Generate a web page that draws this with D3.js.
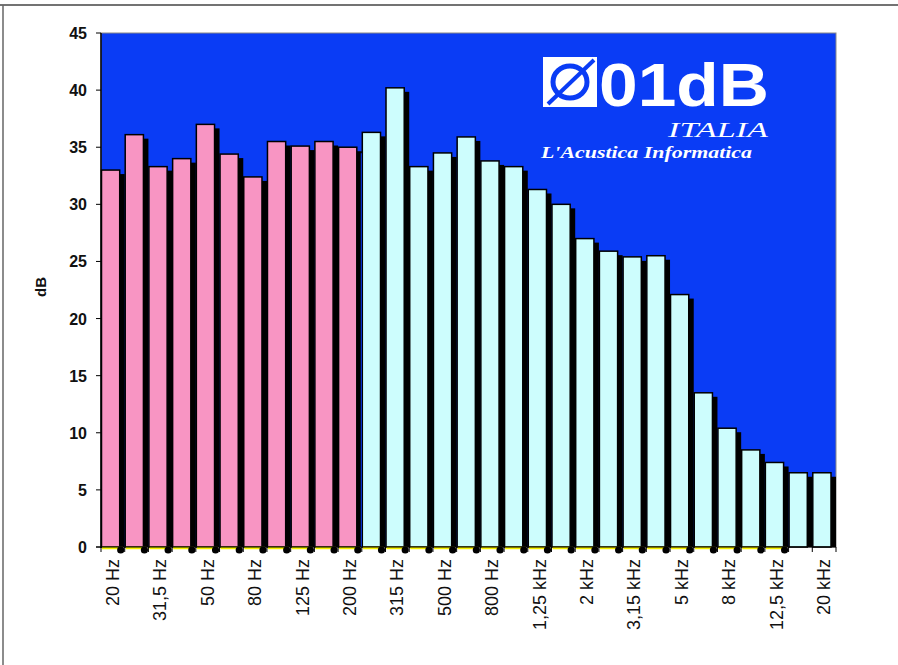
<!DOCTYPE html>
<html><head><meta charset="utf-8">
<script src="https://cdn.jsdelivr.net/npm/d3@7"></script>
<style>body{margin:0;background:#fff}svg{display:block}</style>
</head><body><svg id="c" width="898" height="665"></svg>
<script>
const bands = ["20 Hz","25 Hz","31.5 Hz","40 Hz","50 Hz","63 Hz","80 Hz","100 Hz","125 Hz","160 Hz","200 Hz","250 Hz","315 Hz","400 Hz","500 Hz","630 Hz","800 Hz","1 kHz","1.25 kHz","1.6 kHz","2 kHz","2.5 kHz","3.15 kHz","4 kHz","5 kHz","6.3 kHz","8 kHz","10 kHz","12.5 kHz","16 kHz","20 kHz"];
const labels = ["20 Hz","31.5 Hz","50 Hz","80 Hz","125 Hz","200 Hz","315 Hz","500 Hz","800 Hz","1.25 kHz","2 kHz","3.15 kHz","5 kHz","8 kHz","12.5 kHz","20 kHz"];
const labelText = ["20 Hz","31,5 Hz","50 Hz","80 Hz","125 Hz","200 Hz","315 Hz","500 Hz","800 Hz","1,25 kHz","2 kHz","3,15 kHz","5 kHz","8 kHz","12,5 kHz","20 kHz"];
const levels = [33.0,36.1,33.3,34.0,37.0,34.4,32.4,35.5,35.1,35.5,35.0,36.3,40.2,33.3,34.5,35.9,33.8,33.3,31.3,30.0,27.0,25.9,25.4,25.5,22.1,13.5,10.4,8.5,7.4,6.5,6.5];
const lowBandCount = 11; // pink bands (20 Hz - 200 Hz)
const markers = [0,0,0,0,0,0,0,0,0,0,0,0,0,0,0,0,0,0,0,0,0,0,0,0,0,0,0,0,0,null,null];
const yTicks = [0,5,10,15,20,25,30,35,40,45];

const svg = d3.select("#c");
const L = 101, R = 836, T = 33, B = 547;
const x = d3.scaleBand().domain(bands).range([L, R]).padding(0);
const y = d3.scaleLinear().domain([0,45]).range([B, T]);
const BLUE = "#0a3cf5";

// outer frame
svg.append("line").attr("x1",0).attr("x2",898).attr("y1",5).attr("y2",5).attr("stroke","#444").attr("stroke-width",1.5);
svg.append("line").attr("x1",3).attr("x2",3).attr("y1",5).attr("y2",665).attr("stroke","#666").attr("stroke-width",1.5);

// plot background
svg.append("rect").attr("x",L).attr("y",T).attr("width",R-L).attr("height",B-T)
  .attr("fill",BLUE).attr("stroke","#888").attr("stroke-width",1);

// logo
const lg = svg.append("g");
lg.append("rect").attr("x",543).attr("y",57).attr("width",54).attr("height",50).attr("fill","#fff");
lg.append("ellipse").attr("cx",570).attr("cy",82).attr("rx",17).attr("ry",16).attr("fill","none").attr("stroke",BLUE).attr("stroke-width",5);
lg.append("line").attr("x1",548).attr("y1",104).attr("x2",594).attr("y2",60).attr("stroke",BLUE).attr("stroke-width",4);
lg.append("text").attr("transform","translate(599,106) scale(1,1.16)").attr("fill","#fff").attr("font-family","Liberation Sans, Arial, sans-serif")
  .attr("font-weight","bold").attr("font-size",52).attr("textLength",170).attr("lengthAdjust","spacingAndGlyphs").text("01dB");
lg.append("text").attr("x",768).attr("y",137).attr("text-anchor","end").attr("fill","#fff").attr("font-family","Liberation Serif, Times New Roman, serif")
  .attr("font-style","italic").attr("font-size",20).attr("textLength",100).attr("lengthAdjust","spacingAndGlyphs").text("ITALIA");
lg.append("text").attr("x",541).attr("y",158).attr("fill","#fff").attr("font-family","Liberation Serif, Times New Roman, serif")
  .attr("font-style","italic").attr("font-weight","bold").attr("font-size",17).attr("textLength",211).attr("lengthAdjust","spacingAndGlyphs").text("L'Acustica Informatica");

// bars
const bw = x.bandwidth();
const barW = bw - 4.5;
const g = svg.append("g");
bands.forEach((b,i)=>{
  const x0 = x(b)+0.5, top = y(levels[i]);
  g.append("rect").attr("x",x0+4).attr("y",top+4).attr("width",barW).attr("height",B-top-4).attr("fill","#000");
  g.append("rect").attr("x",x0).attr("y",top).attr("width",barW-1).attr("height",B-top)
    .attr("fill", i < lowBandCount ? "#f895c3" : "#cdfdfd").attr("stroke","#000").attr("stroke-width",1.5);
});
// blue separator between pink and cyan
svg.append("line").attr("x1",x(bands[lowBandCount])-0.5).attr("x2",x(bands[lowBandCount])-0.5)
  .attr("y1",y(levels[lowBandCount-1])+6).attr("y2",B).attr("stroke",BLUE).attr("stroke-width",1);

// markers at bottom
bands.forEach((b,i)=>{
  if (markers[i]==null) return;
  const x0 = x(b);
  svg.append("line").attr("x1",x0+1).attr("x2",x0+bw-2).attr("y1",y(markers[i])+1).attr("y2",y(markers[i])+1).attr("stroke","#f5f000").attr("stroke-width",2.5);
  svg.append("circle").attr("cx",x0+bw-4).attr("cy",y(markers[i])+3).attr("r",3.6).attr("fill","#000");
});

// y axis
svg.append("line").attr("x1",L).attr("x2",L).attr("y1",T).attr("y2",B+1).attr("stroke","#000").attr("stroke-width",1.5);
yTicks.forEach(t=>{
  svg.append("line").attr("x1",L-5).attr("x2",L).attr("y1",y(t)).attr("y2",y(t)).attr("stroke","#000");
  svg.append("text").attr("x",87).attr("y",y(t)+6).attr("text-anchor","end").attr("font-family","Liberation Sans, Arial, sans-serif")
    .attr("font-weight","bold").attr("font-size",16).attr("fill","#111").text(t);
});
// x axis baseline & ticks
svg.append("line").attr("x1",L-5).attr("x2",R).attr("y1",B).attr("y2",B).attr("stroke","#000").attr("stroke-width",1);
bands.concat([null]).forEach((b,i)=>{
  const xx = b==null ? R : x(b);
  svg.append("line").attr("x1",xx).attr("x2",xx).attr("y1",B).attr("y2",B+5).attr("stroke","#000");
});
labels.forEach((b,i)=>{
  const cx = x(b)+bw/2;
  svg.append("text").attr("transform",`translate(${cx+6},559) rotate(-90)`).attr("text-anchor","end")
    .attr("font-family","Liberation Sans, Arial, sans-serif").attr("font-size",18).attr("fill","#111").text(labelText[i]);
});
// y title
svg.append("text").attr("transform","translate(46,287) rotate(-90)").attr("text-anchor","middle")
  .attr("font-family","Liberation Sans, Arial, sans-serif").attr("font-weight","bold").attr("font-size",15).attr("fill","#111").text("dB");
</script></body></html>
